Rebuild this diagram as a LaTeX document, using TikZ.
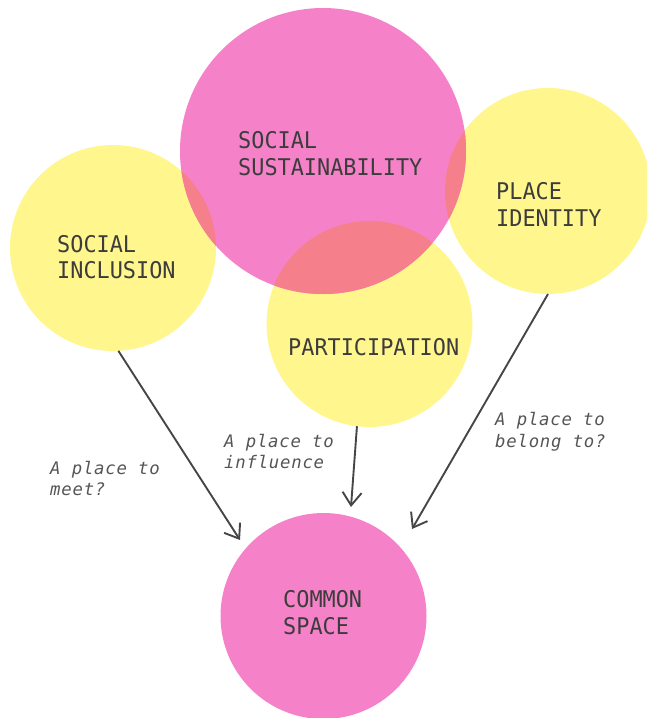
\documentclass[tikz,border=0pt]{standalone}
\usepackage{fontspec}
\usetikzlibrary{arrows.meta}
\newfontfamily\capsfont{DejaVu Sans Mono}[FakeStretch=0.95]
\newfontfamily\labfont{DejaVu Sans Mono}[LetterSpace=4.5]
\definecolor{cpink}{RGB}{245,130,200}
\definecolor{cyellow}{RGB}{255,246,142}
\definecolor{csalmon}{RGB}{246,127,140}
\definecolor{ctext}{RGB}{60,60,60}
\definecolor{clab}{RGB}{85,85,85}
\definecolor{carrow}{RGB}{70,70,70}
\tikzset{
  bigc/.style={circle, inner sep=0pt, outer sep=0pt, minimum size=286pt, fill=cpink},
  yc/.style={circle, inner sep=0pt, outer sep=0pt, minimum size=206pt, fill=cyellow},
  pc/.style={circle, inner sep=0pt, outer sep=0pt, minimum size=206pt, fill=cpink},
  capt/.style={anchor=base west, inner sep=0pt, text=ctext, font=\capsfont\fontsize{23}{27}\selectfont},
  labt/.style={anchor=base west, inner sep=0pt, text=clab, font=\labfont\itshape\fontsize{17.3}{21}\selectfont},
  arr/.style={draw=carrow, line width=1.9pt, -{Straight Barb[length=13pt,width=19pt]}}
}
\begin{document}
\begin{tikzpicture}[x=1pt,y=-1pt]
\useasboundingbox (0,0) rectangle (646,718);
% circles
\node[yc] (inc) at (113,248) {};
\node[yc] (pid) at (548,191) {};
\node[yc] (par) at (369.5,324) {};
\node[bigc] (ss) at (323,151) {};
\node[pc] (cs) at (323.5,616) {};
% overlaps
\begin{scope}
  \clip (323,151) circle [radius=143pt];
  \fill[csalmon] (113,248) circle [radius=103pt];
  \fill[csalmon] (548,191) circle [radius=103pt];
  \fill[csalmon] (369.5,324) circle [radius=103pt];
\end{scope}
% texts
\node[capt] (ss1) at (238,148) {SOCIAL};
\node[capt] (ss2) at (238,175) {SUSTAINABILITY};
\node[capt] (in1) at (57,252) {SOCIAL};
\node[capt] (in2) at (57,278) {INCLUSION};
\node[capt] (pi1) at (496,199) {PLACE};
\node[capt] (pi2) at (496,226) {IDENTITY};
\node[capt] (pa1) at (288,355) {PARTICIPATION};
\node[capt] (cs1) at (283,607) {COMMON};
\node[capt] (cs2) at (283,634) {SPACE};
% labels
\node[labt] (l11) at (50,474) {A place to};
\node[labt] (l12) at (50,495) {meet?};
\node[labt] (l21) at (224,447) {A place to};
\node[labt] (l22) at (224,468) {influence};
\node[labt] (l31) at (495,425) {A place to};
\node[labt] (l32) at (495,447) {belong to?};
% arrows
\coordinate (t1) at (240,540);
\coordinate (t2) at (351,507);
\coordinate (t3) at (412,529);
\draw[arr] (inc.-87) -- (t1);
\draw[arr] (par.-97) -- (t2);
\draw[arr] (pid.-90) -- (t3);
\end{tikzpicture}
\end{document}
